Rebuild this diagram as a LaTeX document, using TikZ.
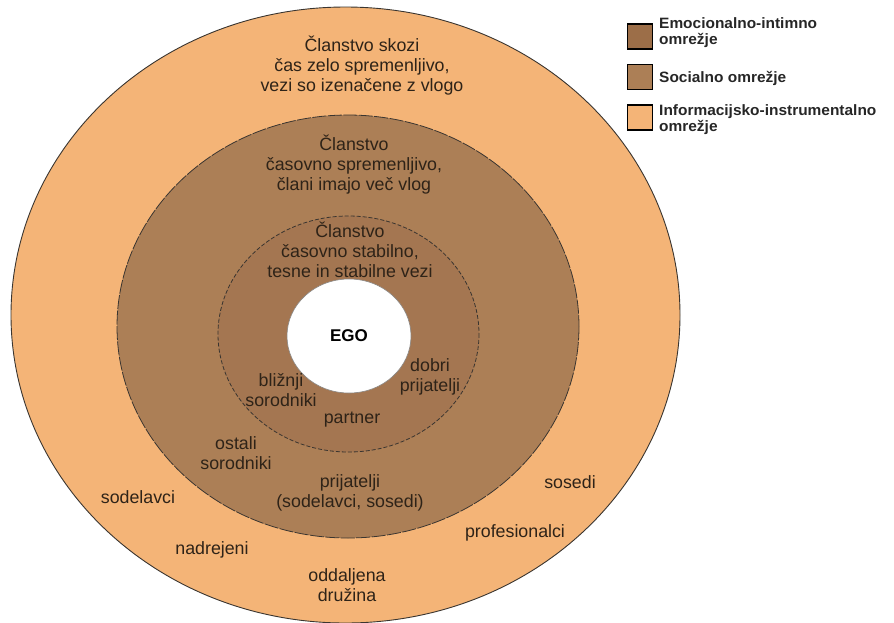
\documentclass[tikz,border=0pt]{standalone}
\usepackage{fontspec}
\setmainfont{Liberation Sans}
\usepackage{graphicx}
\definecolor{outerc}{HTML}{F4B477}
\definecolor{midc}{HTML}{AC7F56}
\definecolor{innerc}{HTML}{A47651}
\definecolor{legdark}{HTML}{9C6E48}
\definecolor{txt}{HTML}{2E2318}
\definecolor{edge}{HTML}{3A3530}
\newcommand\lgstretch[1]{\scalebox{1.03}[1]{#1}}
\begin{document}
\begin{tikzpicture}[x=1pt,y=-1pt,
  lbl/.style={font=\fontsize{17.8}{20}\selectfont, text=txt, align=center, inner sep=0pt},
  legbox/.style={draw=black, line width=1.6pt, minimum width=25pt, minimum height=25pt, inner sep=0pt},
  legtxt/.style={anchor=west, font=\fontsize{15}{16}\selectfont\bfseries, text=black!85, align=left, inner sep=0pt}]
\useasboundingbox (0,0) rectangle (894,622);
% rings
\path[draw=edge, line width=0.9pt, fill=outerc] (345.5,315) ellipse [x radius=334.5, y radius=308];
\path[draw=edge, line width=0.8pt, fill=midc, dash pattern=on 14pt off 1.5pt] (348,326.5) ellipse [x radius=231, y radius=211.5];
\path[draw=edge, line width=0.8pt, fill=innerc, dash pattern=on 4pt off 2pt] (348.5,334) ellipse [x radius=130.5, y radius=118];
\path[draw=edge!60, line width=0.6pt, fill=white] (349,336) ellipse [x radius=62, y radius=57];
% texts
\node[lbl] (t1) at (362,66) {Članstvo skozi\\čas zelo spremenljivo,\\vezi so izenačene z vlogo};
\node[lbl] (t2) at (354,165) {Članstvo\\časovno spremenljivo,\\člani imajo več vlog};
\node[lbl] (t3) at (350,250) {Članstvo\\časovno stabilno,\\tesne in stabilne vezi};
\node[lbl, font=\fontsize{17}{20}\bfseries, text=black] (ego) at (349,336) {EGO};
\node[lbl] (bliz) at (281,390) {bližnji\\sorodniki};
\node[lbl] (dobri) at (430,377) {dobri\\prijatelji};
\node[lbl] (partner) at (352,420) {partner};
\node[lbl] (ostali) at (236,453) {ostali\\sorodniki};
\node[lbl] (prij) at (350,493) {prijatelji\\(sodelavci, sosedi)};
\node[lbl] (sodel) at (138,497) {sodelavci};
\node[lbl] (nadr) at (212,550) {nadrejeni};
\node[lbl] (oddal) at (347,585) {oddaljena\\družina};
\node[lbl] (sosedi) at (570,482) {sosedi};
\node[lbl] (prof) at (515,533) {profesionalci};
% legend
\node[legbox, fill=legdark] (b1) at (640,36.5) {};
\node[legbox, fill=midc] (b2) at (640,77) {};
\node[legbox, fill=outerc] (b3) at (640,117.5) {};
\node[legtxt] (l1) at (659,33) {\lgstretch{Emocionalno-intimno}\\\lgstretch{omrežje}};
\node[legtxt] (l2) at (659,78) {\lgstretch{Socialno omrežje}};
\node[legtxt] (l3) at (659,120) {\lgstretch{Informacijsko-instrumentalno}\\\lgstretch{omrežje}};
\end{tikzpicture}
\end{document}
